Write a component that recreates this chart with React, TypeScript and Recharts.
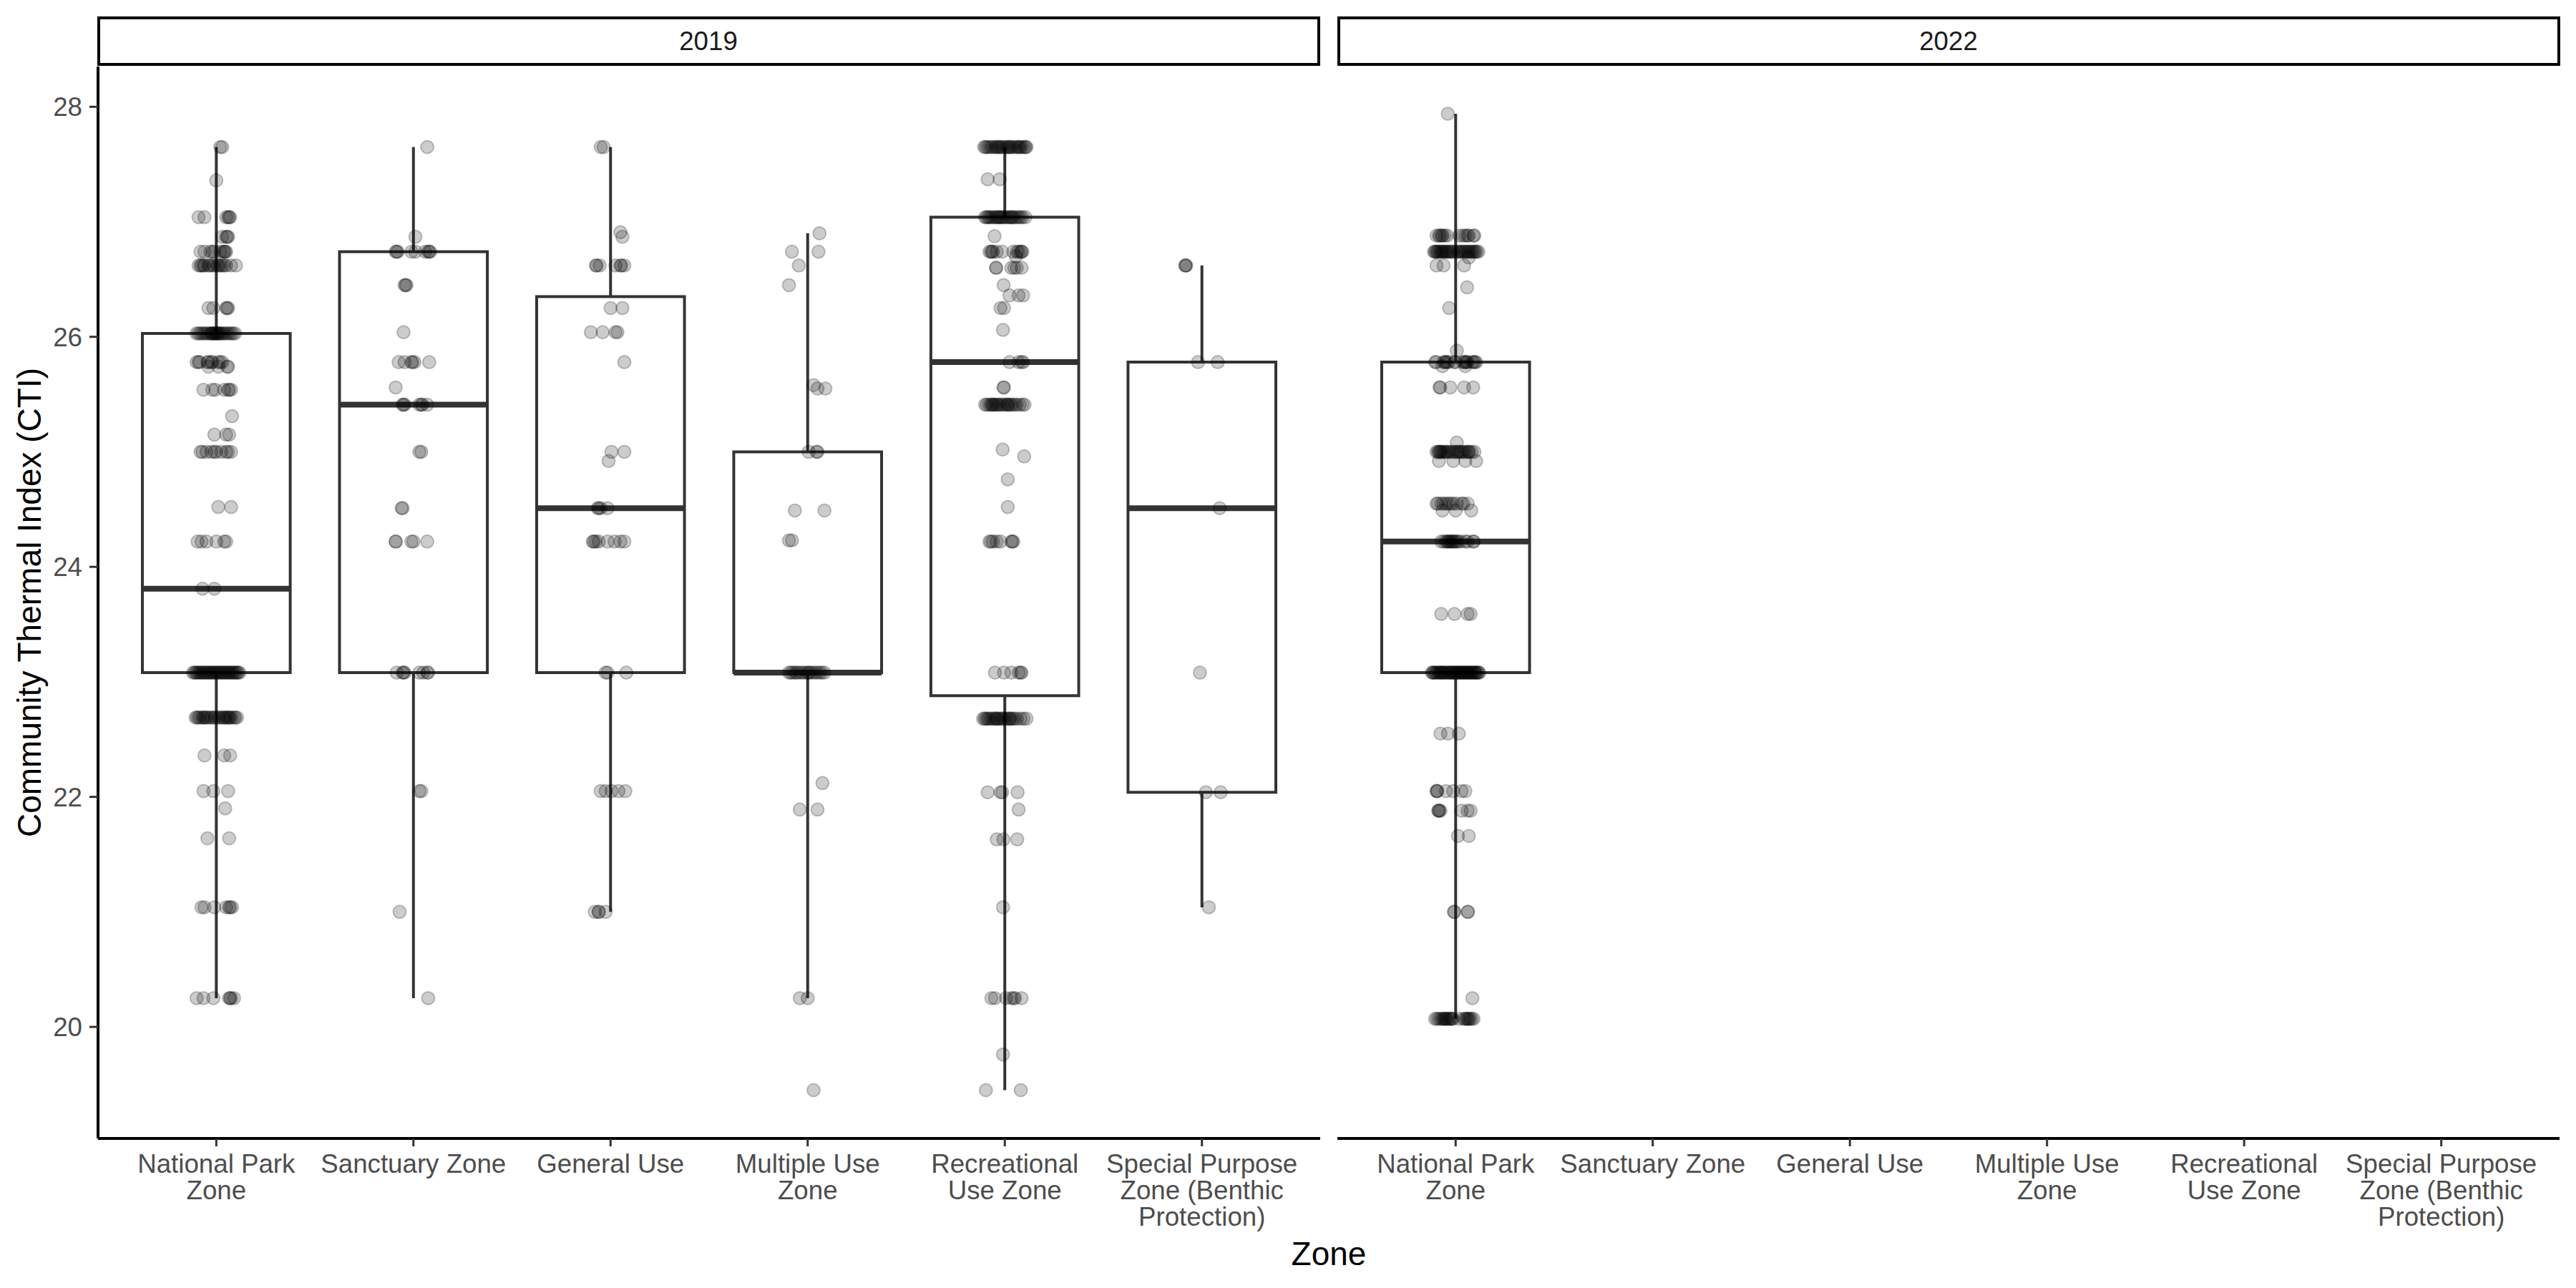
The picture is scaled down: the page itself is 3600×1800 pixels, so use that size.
import React from 'react';
import { ScatterChart, Scatter, XAxis, YAxis, ReferenceArea, ReferenceLine } from 'recharts';

const FONT = '"Liberation Sans", Arial, Helvetica, sans-serif';

const ZONES = [
  'National Park Zone',
  'Sanctuary Zone',
  'General Use',
  'Multiple Use Zone',
  'Recreational Use Zone',
  'Special Purpose Zone (Benthic Protection)',
];
const ZONE_LABELS = [
  ['National Park', 'Zone'],
  ['Sanctuary Zone'],
  ['General Use'],
  ['Multiple Use', 'Zone'],
  ['Recreational', 'Use Zone'],
  ['Special Purpose', 'Zone (Benthic', 'Protection)'],
];
const Y_TICKS = [20, 22, 24, 26, 28];
const X_TICKS = [1, 2, 3, 4, 5, 6];
const YEARS = ['2019', '2022'];

// box stats (null = no data for that zone)
const Q1_2019 = [23.08, 23.08, 23.08, 23.08, 22.88, 22.04];
const MED_2019 = [23.81, 25.41, 24.51, 23.08, 25.78, 24.51];
const Q3_2019 = [26.03, 26.74, 26.35, 25.0, 27.04, 25.78];
const LO_2019 = [20.25, 20.25, 21.0, 20.25, 19.45, 21.04];
const HI_2019 = [27.65, 27.65, 27.65, 26.9, 27.65, 26.62];

const Q1_2022 = [23.08, null, null, null, null, null];
const MED_2022 = [24.22, null, null, null, null, null];
const Q3_2022 = [25.78, null, null, null, null, null];
const LO_2022 = [20.07, null, null, null, null, null];
const HI_2022 = [27.94, null, null, null, null, null];

// observations: [CTI value, jitter offsets of the points at that value]
type Row = [number, number[]];

const NP_2019: Row[] = [
  [27.65, [0.02, 0.03]],
  [27.36, [0.0]],
  [27.04, [-0.09, -0.06, 0.05, 0.06, 0.07, 0.065]],
  [26.87, [0.03, 0.05, 0.06, 0.055]],
  [26.74, [-0.08, -0.06, -0.03, -0.01, 0.02, 0.04, 0.05, 0.045, -0.02, 0.035]],
  [26.62, [-0.09, -0.08, -0.06, -0.035, -0.02, 0.005, 0.03, 0.05, 0.075, 0.1, -0.075, -0.04, -0.01, 0.02, 0.04, -0.065, 0.01]],
  [26.25, [-0.04, -0.015, 0.05, 0.06, 0.055]],
  [26.03, [-0.1, -0.08, -0.06, -0.04, -0.025, -0.01, 0.005, 0.02, 0.035, 0.055, 0.075, 0.095, -0.09, -0.07, -0.05, -0.03, -0.015, 0.0, 0.012, 0.028, 0.045, 0.065, 0.085, -0.02, 0.01, -0.005]],
  [25.78, [-0.1, -0.085, -0.04, -0.025, 0.01, 0.03, -0.09, -0.045, -0.02, 0.02]],
  [25.74, [-0.04, 0.01, 0.055, 0.06]],
  [25.54, [-0.065, -0.02, -0.005, 0.04, 0.06, 0.075, 0.065]],
  [25.31, [0.08]],
  [25.15, [-0.01, 0.05, 0.065]],
  [25.0, [-0.08, -0.05, -0.025, 0.0, 0.025, 0.05, 0.075, -0.07, -0.01, 0.06]],
  [24.52, [0.01, 0.075]],
  [24.22, [-0.095, -0.075, -0.05, 0.0, 0.04, 0.05]],
  [23.81, [-0.07, -0.01]],
  [23.08, [-0.118, -0.111, -0.103, -0.098, -0.09, -0.083, -0.077, -0.07, -0.064, -0.056, -0.05, -0.045, -0.037, -0.031, -0.024, -0.018, -0.011, -0.005, 0.002, 0.008, 0.015, 0.021, 0.027, 0.034, 0.041, 0.046, 0.053, 0.06, 0.066, 0.072, 0.079, 0.085, 0.092, 0.099, 0.105, 0.111, 0.117]],
  [22.69, [-0.105, -0.098, -0.09, -0.082, -0.07, -0.064, -0.05, -0.043, -0.03, -0.022, -0.01, -0.004, 0.01, 0.017, 0.03, 0.036, 0.05, 0.058, 0.07, 0.077, 0.09, 0.097, 0.105, -0.058, 0.043, 0.064]],
  [22.36, [-0.06, 0.04, 0.07]],
  [22.05, [-0.065, -0.015, 0.06]],
  [21.9, [0.045]],
  [21.64, [-0.045, 0.065]],
  [21.04, [-0.075, -0.06, -0.01, 0.05, 0.065, 0.08, 0.07]],
  [20.25, [-0.1, -0.065, -0.015, 0.065, 0.075, 0.09, 0.07]],
];

const SZ_2019: Row[] = [
  [27.65, [0.07]],
  [26.87, [0.01]],
  [26.74, [-0.09, -0.08, -0.085, -0.01, 0.01, 0.06, 0.075, 0.085, 0.08]],
  [26.45, [-0.045, -0.035, -0.04]],
  [26.04, [-0.05]],
  [25.78, [-0.075, -0.045, -0.01, 0.005, 0.08, -0.005]],
  [25.56, [-0.09]],
  [25.41, [-0.055, -0.045, 0.03, 0.045, 0.07, -0.05, 0.04]],
  [25.0, [0.03, 0.04]],
  [24.51, [-0.06, -0.055]],
  [24.22, [-0.09, -0.09, -0.01, 0.0, 0.07]],
  [23.08, [-0.085, -0.055, -0.045, 0.03, 0.05, 0.075, -0.05, 0.07]],
  [22.05, [0.03, 0.04]],
  [21.0, [-0.07]],
  [20.25, [0.075]],
];

const GU_2019: Row[] = [
  [27.65, [-0.05, -0.035]],
  [26.91, [0.05]],
  [26.87, [0.06]],
  [26.62, [-0.075, -0.055, 0.025, 0.05, 0.07, -0.07, 0.055]],
  [26.25, [0.0, 0.06]],
  [26.04, [-0.1, -0.04, 0.025, 0.035]],
  [25.78, [0.07]],
  [25.0, [0.005, 0.07]],
  [24.92, [-0.01]],
  [24.51, [-0.065, -0.05, -0.015, -0.06]],
  [24.22, [-0.09, -0.075, -0.06, -0.015, 0.02, 0.05, 0.07, -0.085]],
  [23.08, [-0.025, -0.015, 0.08]],
  [22.05, [-0.05, -0.025, 0.005, 0.04, 0.075]],
  [21.0, [-0.08, -0.06, -0.06, -0.025]],
];

const MU_2019: Row[] = [
  [26.9, [0.06]],
  [26.74, [-0.08, 0.055]],
  [26.62, [-0.045]],
  [26.45, [-0.095]],
  [25.58, [0.03]],
  [25.55, [0.05, 0.09]],
  [25.0, [0.005, 0.045, 0.05]],
  [24.49, [-0.065, 0.085]],
  [24.23, [-0.095, -0.08]],
  [23.08, [-0.095, -0.085, -0.075, -0.062, -0.055, -0.042, -0.03, -0.018, -0.005, 0.004, 0.01, 0.022, 0.035, 0.047, 0.06, 0.072, 0.085]],
  [22.12, [0.075]],
  [21.89, [-0.04, 0.05]],
  [20.25, [-0.04, 0.0]],
  [19.45, [0.03]],
];

const RU_2019: Row[] = [
  [27.65, [-0.105, -0.098, -0.09, -0.08, -0.07, -0.062, -0.05, -0.043, -0.03, -0.022, -0.015, -0.006, 0.005, 0.013, 0.025, 0.032, 0.04, 0.05, 0.06, 0.068, 0.08, 0.09, 0.1, 0.106, 0.11, -0.036, 0.019, 0.074]],
  [27.37, [-0.087, -0.026]],
  [27.04, [-0.1, -0.093, -0.085, -0.078, -0.07, -0.06, -0.05, -0.042, -0.035, -0.024, -0.015, -0.008, 0.0, 0.01, 0.02, 0.028, 0.04, 0.048, 0.06, 0.07, 0.08, 0.09, 0.105, 0.034, -0.03]],
  [26.875, [-0.052]],
  [26.74, [-0.078, -0.07, -0.059, -0.041, -0.013, 0.043, 0.061, 0.08, 0.089, 0.085, 0.07, -0.065]],
  [26.7, [0.056]],
  [26.6, [-0.044, -0.044, 0.033, 0.048, 0.061, 0.085]],
  [26.45, [-0.006]],
  [26.36, [0.024, 0.07, 0.093]],
  [26.25, [-0.022, -0.004]],
  [26.06, [-0.009]],
  [25.78, [0.024, 0.07, 0.085, 0.093]],
  [25.56, [-0.007, -0.004]],
  [25.41, [-0.1, -0.092, -0.08, -0.07, -0.06, -0.052, -0.045, -0.036, -0.03, -0.02, -0.01, 0.0, 0.01, 0.02, 0.03, 0.038, 0.05, 0.06, 0.075, 0.09, 0.1, -0.065, 0.015]],
  [25.02, [-0.011]],
  [24.96, [0.098]],
  [24.76, [0.015]],
  [24.52, [0.015]],
  [24.22, [-0.078, -0.059, -0.041, -0.022, 0.033, 0.043, -0.07, 0.038]],
  [23.08, [-0.05, -0.004, 0.033, 0.07, 0.085, 0.08]],
  [22.68, [-0.11, -0.102, -0.095, -0.087, -0.08, -0.07, -0.06, -0.052, -0.045, -0.035, -0.025, -0.016, -0.01, 0.0, 0.01, 0.02, 0.03, 0.04, 0.05, 0.062, 0.08, 0.095, 0.11, -0.04, 0.025]],
  [22.04, [-0.087, -0.022, -0.013, 0.065]],
  [21.89, [0.07]],
  [21.63, [-0.041, -0.007, 0.063]],
  [21.04, [-0.009]],
  [20.25, [-0.068, -0.05, 0.006, 0.033, 0.052, 0.085, 0.045]],
  [19.76, [-0.009]],
  [19.45, [-0.096, 0.081]],
];

const SP_2019: Row[] = [
  [26.62, [-0.085, -0.08, -0.082]],
  [25.78, [-0.02, 0.08]],
  [24.51, [0.09]],
  [23.08, [-0.01]],
  [22.04, [0.02, 0.095]],
  [21.04, [0.035]],
];

const NP_2022: Row[] = [
  [27.94, [-0.04]],
  [26.88, [-0.097, -0.085, -0.079, -0.067, -0.055, -0.043, 0.018, 0.037, 0.049, 0.067, 0.095, 0.06, 0.09, -0.07]],
  [26.74, [-0.11, -0.105, -0.1, -0.094, -0.09, -0.082, -0.076, -0.07, -0.064, -0.06, -0.05, -0.045, -0.04, -0.032, -0.025, -0.018, -0.01, 0.005, 0.015, 0.02, 0.03, 0.035, 0.045, 0.05, 0.06, 0.065, 0.072, 0.08, 0.088, 0.095, 0.1, 0.108, 0.115]],
  [26.69, [0.067]],
  [26.62, [-0.097, -0.061, 0.043]],
  [26.43, [0.058]],
  [26.25, [-0.033]],
  [25.88, [0.006]],
  [25.78, [-0.104, -0.098, -0.061, -0.055, -0.043, -0.035, -0.006, 0.0, 0.037, 0.049, 0.055, 0.061, 0.085, 0.091, 0.104, 0.098, -0.05, 0.045]],
  [25.745, [-0.067, 0.049]],
  [25.56, [-0.082, -0.027, 0.043, 0.089, -0.078]],
  [25.08, [0.006]],
  [25.0, [-0.097, -0.09, -0.085, -0.077, -0.07, -0.062, -0.055, -0.047, -0.04, -0.03, -0.02, -0.01, 0.0, 0.008, 0.015, 0.023, 0.03, 0.04, 0.05, 0.06, 0.07, 0.082, 0.095, -0.08, 0.065]],
  [24.92, [-0.085, -0.012, 0.049, 0.104]],
  [24.55, [-0.097, -0.09, -0.073, -0.062, -0.049, -0.037, -0.025, -0.012, 0.006, 0.03, 0.061, 0.04]],
  [24.49, [-0.067, 0.0, 0.079]],
  [24.22, [-0.073, -0.06, -0.048, -0.037, -0.03, -0.024, -0.018, -0.01, -0.006, 0.005, 0.012, 0.025, 0.049, 0.06, 0.09, 0.091, -0.042]],
  [23.59, [-0.073, -0.006, 0.061, 0.076]],
  [23.08, [-0.12, -0.116, -0.112, -0.105, -0.1, -0.093, -0.087, -0.08, -0.076, -0.072, -0.066, -0.061, -0.054, -0.05, -0.043, -0.036, -0.03, -0.026, -0.022, -0.015, -0.01, -0.004, 0.0, 0.006, 0.012, 0.017, 0.02, 0.026, 0.031, 0.037, 0.04, 0.047, 0.052, 0.057, 0.06, 0.066, 0.071, 0.077, 0.08, 0.086, 0.092, 0.097, 0.1, 0.106, 0.111, 0.116, 0.12]],
  [22.55, [-0.077, -0.039, 0.016]],
  [22.05, [-0.097, -0.095, -0.093, -0.049, -0.012, 0.03, 0.049]],
  [21.88, [-0.088, -0.086, -0.084, -0.077, 0.03, 0.061, 0.076]],
  [21.66, [0.012, 0.067]],
  [21.0, [-0.009, -0.006, 0.061, 0.063]],
  [20.25, [0.085]],
  [20.07, [-0.104, -0.095, -0.085, -0.075, -0.067, -0.06, -0.055, -0.05, -0.045, -0.037, -0.03, -0.018, -0.015, 0.018, 0.04, 0.049, 0.055, 0.061, 0.067, 0.073, 0.082, 0.091, -0.025]],
];

const POINTS_2019: Row[][] = [NP_2019, SZ_2019, GU_2019, MU_2019, RU_2019, SP_2019];
const POINTS_2022: Row[][] = [NP_2022, [], [], [], [], []];

function toPoints(groups: Row[][]) {
  const out: { x: number; y: number }[] = [];
  groups.forEach((rows, zi) => {
    rows.forEach(([cti, offs]) => {
      offs.forEach((o) => out.push({ x: zi + 1 + o, y: cti }));
    });
  });
  return out;
}

const BOX_HALF = 0.375;
const BOX_COLOR = '#333333';

function ZoneTick(props: any) {
  const { x, y, payload } = props;
  const lines = ZONE_LABELS[payload.value - 1] || [];
  return (
    <text x={x} y={y} textAnchor="middle" fill="#4D4D4D" fontSize={36.7} fontFamily={FONT}>
      {lines.map((l, i) => (
        <tspan key={i} x={x} dy={i === 0 ? 27 : 37}>
          {l}
        </tspan>
      ))}
    </text>
  );
}

const Dot = (p: any) => (
  <circle cx={p.cx} cy={p.cy} r={9} fill="#000" fillOpacity={0.2} stroke="#000" strokeOpacity={0.22} strokeWidth={2} />
);

function Panel({ left, showY, q1, med, q3, lo, hi, groups }: any) {
  const pts = toPoints(groups);
  return (
    <div style={{ position: 'absolute', left, top: 0 }}>
      <ScatterChart width={showY ? 1845 : 1708} height={1800} margin={{ top: 93, right: 0, bottom: 0, left: 0 }}>
        <XAxis
          type="number"
          dataKey="x"
          domain={[0.4, 6.6]}
          ticks={X_TICKS}
          allowDataOverflow
          height={209}
          tickSize={11}
          tickMargin={10}
          interval={0}
          axisLine={{ stroke: '#000', strokeWidth: 4 }}
          tickLine={{ stroke: BOX_COLOR, strokeWidth: 3 }}
          tick={<ZoneTick />}
        />
        <YAxis
          type="number"
          dataKey="y"
          domain={[19.03, 28.35]}
          ticks={Y_TICKS}
          allowDataOverflow
          hide={!showY}
          width={137}
          tickSize={12}
          tickMargin={10}
          axisLine={{ stroke: '#000', strokeWidth: 4 }}
          tickLine={{ stroke: BOX_COLOR, strokeWidth: 3 }}
          tick={{ fill: '#4D4D4D', fontSize: 36.7, fontFamily: FONT }}
        />
        {ZONES.map((z, i) =>
          q1[i] == null ? null : (
            <ReferenceLine
              key={`wl-${z}`}
              segment={[{ x: i + 1, y: lo[i] }, { x: i + 1, y: q1[i] }]}
              stroke={BOX_COLOR}
              strokeWidth={4}
            />
          )
        )}
        {ZONES.map((z, i) =>
          q1[i] == null ? null : (
            <ReferenceLine
              key={`wh-${z}`}
              segment={[{ x: i + 1, y: q3[i] }, { x: i + 1, y: hi[i] }]}
              stroke={BOX_COLOR}
              strokeWidth={4}
            />
          )
        )}
        {ZONES.map((z, i) =>
          q1[i] == null ? null : (
            <ReferenceArea
              key={`box-${z}`}
              x1={i + 1 - BOX_HALF}
              x2={i + 1 + BOX_HALF}
              y1={q1[i]}
              y2={q3[i]}
              fill="none"
              fillOpacity={0}
              stroke={BOX_COLOR}
              strokeWidth={4}
            />
          )
        )}
        {ZONES.map((z, i) =>
          q1[i] == null ? null : (
            <ReferenceLine
              key={`med-${z}`}
              segment={[{ x: i + 1 - BOX_HALF, y: med[i] }, { x: i + 1 + BOX_HALF, y: med[i] }]}
              stroke={BOX_COLOR}
              strokeWidth={8}
            />
          )
        )}
        <Scatter data={pts} shape={Dot} isAnimationActive={false} />
      </ScatterChart>
    </div>
  );
}

export default function App() {
  return (
    <div style={{ position: 'absolute', left: 0, top: 0, width: 3600, height: 1800, background: '#fff', fontFamily: FONT }}>
      <Panel left={0} showY q1={Q1_2019} med={MED_2019} q3={Q3_2019} lo={LO_2019} hi={HI_2019} groups={POINTS_2019} />
      <Panel left={1869} showY={false} q1={Q1_2022} med={MED_2022} q3={Q3_2022} lo={LO_2022} hi={HI_2022} groups={POINTS_2022} />
      <svg width={3600} height={1800} style={{ position: 'absolute', left: 0, top: 0, pointerEvents: 'none' }}>
        <rect x={138} y={25} width={1705} height={65} fill="#fff" stroke="#000" strokeWidth={4} />
        <rect x={1871} y={25} width={1705} height={65} fill="#fff" stroke="#000" strokeWidth={4} />
        <text x={990} y={70} textAnchor="middle" fontSize={36.7} fill="#1A1A1A" fontFamily={FONT}>
          {YEARS[0]}
        </text>
        <text x={2723} y={70} textAnchor="middle" fontSize={36.7} fill="#1A1A1A" fontFamily={FONT}>
          {YEARS[1]}
        </text>
        <text transform="translate(57, 842) rotate(-90)" textAnchor="middle" fontSize={46} fill="#000" fontFamily={FONT}>
          Community Thermal Index (CTI)
        </text>
        <text x={1857} y={1768} textAnchor="middle" fontSize={46} fill="#000" fontFamily={FONT}>
          Zone
        </text>
      </svg>
    </div>
  );
}
